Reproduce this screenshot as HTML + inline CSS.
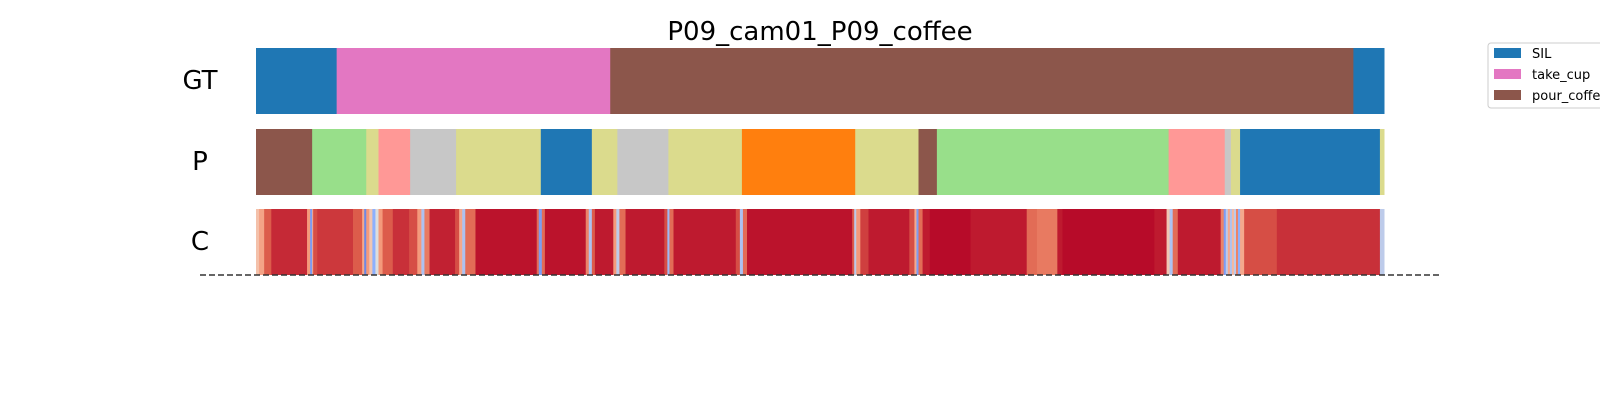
<!DOCTYPE html>
<html><head><meta charset="utf-8"><style>
body{margin:0;background:#fff;width:1600px;height:400px;overflow:hidden;font-family:"DejaVu Sans","Liberation Sans",sans-serif}
</style></head><body>
<svg id="chart" width="1600" height="400" xmlns="http://www.w3.org/2000/svg">
<text x="820" y="40" font-size="26" text-anchor="middle" font-family="DejaVu Sans, sans-serif">P09_cam01_P09_coffee</text>
<text x="200" y="89" font-size="26" text-anchor="middle" font-family="DejaVu Sans, sans-serif">GT</text>
<text x="200" y="170" font-size="26" text-anchor="middle" font-family="DejaVu Sans, sans-serif">P</text>
<text x="200" y="250" font-size="26" text-anchor="middle" font-family="DejaVu Sans, sans-serif">C</text>
<g id="gt"></g><g id="pred"></g><g id="conf"></g>
<line x1="200" y1="275" x2="1439" y2="275" stroke="#333" stroke-width="1.5" stroke-dasharray="6,3"/>
<g>
<rect x="1488" y="43" width="130" height="65" rx="3" fill="#fff" stroke="#ccc"/>
<rect x="1494" y="48" width="27" height="10" fill="#1f77b4"/>
<text x="1532" y="58" font-size="13">SIL</text>
<rect x="1494" y="69" width="27" height="10" fill="#e377c2"/>
<text x="1532" y="79" font-size="13">take_cup</text>
<rect x="1494" y="90" width="27" height="10" fill="#8c564b"/>
<text x="1532" y="100" font-size="13">pour_coffee</text>
</g>
</svg>
<script>
const gtBounds=[0,79,347,1075,1105];
const gtColors=["#1f77b4","#e377c2","#8c564b","#1f77b4"];
const pBounds=[0,55,108,120,151,196,279,329,354,404,476,587,649,667,894,949,955,964,1101,1105];
const pColors=["#8c564b","#98df8a","#dbdb8d","#ff9896","#c7c7c7","#dbdb8d","#1f77b4","#dbdb8d","#c7c7c7","#dbdb8d","#ff7f0e","#dbdb8d","#8c564b","#98df8a","#ff9896","#c7c7c7","#dbdb8d","#1f77b4","#dbdb8d"];
const cStarts=[0,3,8,15,50,53,55,56,60,95,104,106,108,111,114,117,120,124,134,150,158,162,165,170,195,199,202,205,215,275,277,280,283,323,326,329,332,350,353,356,362,400,403,405,409,470,474,477,481,584,586,588,592,600,640,645,647,649,653,660,700,755,765,785,790,880,892,895,898,903,945,948,950,952,954,956,958,960,962,964,968,1000,1101];
const cValues=[0.62,0.72,0.88,0.95,0.75,0.2,0.7,0.9,0.93,0.88,0.7,0.15,0.75,0.6,0.25,0.5,0.75,0.88,0.94,0.9,0.75,0.35,0.82,0.96,0.9,0.7,0.35,0.85,0.98,0.85,0.2,0.85,0.98,0.8,0.35,0.88,0.97,0.75,0.4,0.85,0.97,0.9,0.3,0.85,0.97,0.9,0.35,0.85,0.98,0.88,0.4,0.75,0.92,0.97,0.9,0.7,0.2,0.85,0.97,0.99,0.97,0.85,0.82,0.97,0.99,0.97,0.6,0.35,0.85,0.97,0.8,0.2,0.4,0.7,0.35,0.65,0.4,0.8,0.25,0.7,0.9,0.94,0.4];
const X0=256,X1=1384,DMAX=1105;
function xs(v){return X0+(X1-X0)*v/DMAX;}
function lerp(a,b,t){return a+(b-a)*t;}
function coolwarm(v){
 const st=[[0,[59,76,192]],[0.25,[141,176,254]],[0.5,[221,221,221]],[0.625,[245,192,168]],[0.75,[244,154,123]],[0.875,[222,96,77]],[1,[180,4,38]]];
 for(let i=0;i<st.length-1;i++){if(v<=st[i+1][0]){const t=(v-st[i][0])/(st[i+1][0]-st[i][0]);const a=st[i][1],b=st[i+1][1];return `rgb(${Math.round(lerp(a[0],b[0],t))},${Math.round(lerp(a[1],b[1],t))},${Math.round(lerp(a[2],b[2],t))})`;}}
 return "rgb(180,4,38)";}
const NS="http://www.w3.org/2000/svg";
function draw(gid,bounds,fill,y,h,nm){
 const g=document.getElementById(gid);
 for(let i=0;i<bounds.length-1;i++){
  const r=document.createElementNS(NS,"rect");
  const x=xs(bounds[i]),w=xs(bounds[i+1])-x;
  if(w<=0)continue;
  r.setAttribute("x",x);r.setAttribute("y",y);r.setAttribute("width",w+0.5);r.setAttribute("height",h);
  r.setAttribute("fill",fill(i));
  
  
  g.appendChild(r);}
}
draw("gt",gtBounds,i=>gtColors[i],48,66,"gt-segment");
draw("pred",pBounds,i=>pColors[i],129,66,"pred-segment");
draw("conf",cStarts.concat([DMAX]),i=>coolwarm(cValues[i]),209,66,"confidence-band");
</script>
</body></html>
